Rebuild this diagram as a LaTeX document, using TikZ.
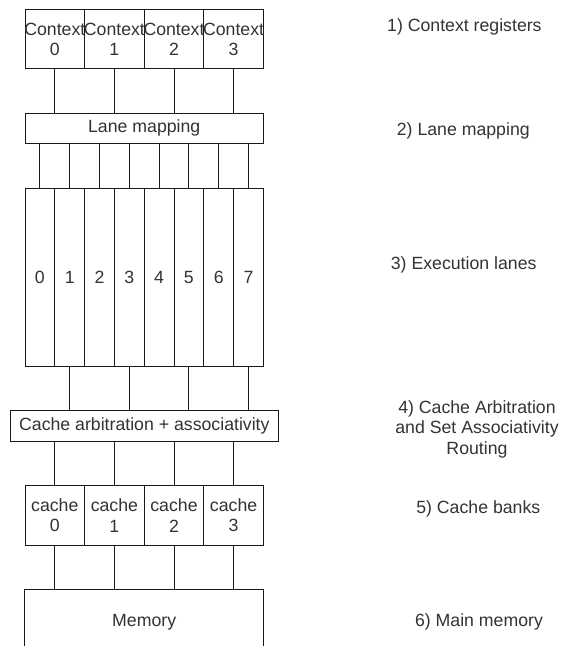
\documentclass[tikz,border=0pt]{standalone}
\usepackage{fontspec}
\setmainfont{Liberation Sans}
\begin{document}
\begin{tikzpicture}[x=1pt,y=-1pt,
  every node/.style={font=\fontsize{17.7pt}{20.5pt}\selectfont, text=black!80, inner sep=0pt, outer sep=0pt},
  box/.style={draw=black!90, line width=1pt, fill=white, align=center},
  cell/.style={box, minimum width=59.6pt, minimum height=59.4pt},
  lane/.style={box, minimum width=29.8pt, minimum height=177.7pt},
  wire/.style={draw=black!90, line width=1pt},
  lbl/.style={anchor=base, align=center}]
\useasboundingbox (0,0) rectangle (563,646);
\clip (0,0) rectangle (563,646);

% 1) context registers
\foreach \i in {0,...,3}
  \node[cell] (c\i) at ({54.8+59.6*\i},39.25) {\makebox[0pt]{Context}\\\i};

% 2) lane mapping
\node[box, minimum width=238.5pt, minimum height=30.3pt, text height=12.7pt, text depth=3.7pt] (lm) at (144.25,128.15) {Lane mapping};

% 3) execution lanes
\foreach \i in {0,...,7}
  \node[lane] (l\i) at ({39.9+29.8*\i},277.15) {\i};

% 4) cache arbitration
\node[box, minimum width=268.7pt, minimum height=30.5pt, text height=12.7pt, text depth=3.7pt] (arb) at (144.35,426.1) {Cache arbitration + associativity};

% 5) cache banks
\foreach \i in {0,...,3}
  \node[cell] (k\i) at ({54.8+59.6*\i},515.35) {cache\\\i};

% 6) memory
\node[box, anchor=north, minimum width=238.5pt, minimum height=62pt, text height=12.7pt, text depth=0pt] (mem) at (144.2,589.3) {Memory};

% connectors
\foreach \i in {0,...,3} {
  \draw[wire] (c\i.south) -- (c\i.south |- lm.north);
  \draw[wire] (k\i.north |- arb.south) -- (k\i.north);
  \draw[wire] (k\i.south) -- (k\i.south |- mem.north);
}
\foreach \i in {0,...,7}
  \draw[wire] (l\i.north |- lm.south) -- (l\i.north);
\foreach \i in {1,3,5,7}
  \draw[wire] (l\i.south) -- (l\i.south |- arb.north);

% step labels
\node[lbl] (t1) at (464.4,31.7) {1) Context registers};
\node[lbl] (t2) at (463.3,135) {2) Lane mapping};
\node[lbl] (t3) at (463.7,269.3) {3) Execution lanes};
\node[lbl] (t4) at (477,454.3) {4) Cache Arbitration\\and Set Associativity\\Routing};
\node[lbl] (t5) at (478.3,513.3) {5) Cache banks};
\node[lbl] (t6) at (479,626.7) {6) Main memory};
\end{tikzpicture}
\end{document}
